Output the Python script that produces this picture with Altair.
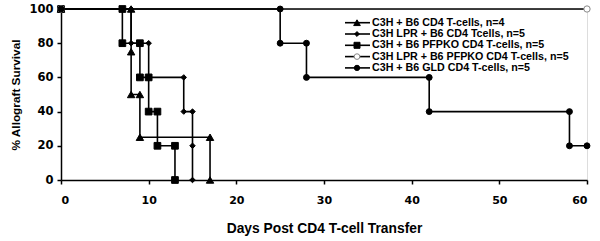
import altair as alt
import pandas as pd

# Survival curves (vertices of the step curves)
tri_days = [0, 8, 8, 8, 9, 9, 17, 17]
tri_surv = [100, 100, 75, 50, 50, 25, 25, 0]

dia_days = [0, 8, 8, 10, 10, 14, 14, 15, 15, 15]
dia_surv = [100, 100, 80, 80, 60, 60, 40, 40, 20, 0]

sq_days = [0, 7, 7, 9, 9, 10, 10, 11, 11, 13, 13]
sq_surv = [100, 100, 80, 80, 60, 60, 40, 40, 20, 20, 0]

open_days = [0, 60]
open_surv = [100, 100]

gld_days = [0, 25, 25, 28, 28, 42, 42, 58, 58, 60]
gld_surv = [100, 100, 80, 80, 60, 60, 40, 40, 20, 20]

labels = [
    "C3H + B6 CD4 T-cells, n=4",
    "C3H LPR + B6 CD4 Tcells, n=5",
    "C3H + B6 PFPKO CD4 T-cells, n=5",
    "C3H LPR + B6 PFPKO CD4 T-cells, n=5",
    "C3H + B6 GLD CD4 T-cells, n=5",
]
x_ticks = [0, 10, 20, 30, 40, 50, 60]
y_ticks = [0, 20, 40, 60, 80, 100]

shapes = ["triangle-up", "diamond", "square", "circle", "circle"]
fills = ["black", "black", "black", "white", "black"]
strokes = ["black", "black", "black", "#888888", "black"]
sizes = [55, 30, 45, 40, 35]

series = [
    (tri_days, tri_surv),
    (dia_days, dia_surv),
    (sq_days, sq_surv),
    (open_days, open_surv),
    (gld_days, gld_surv),
]

W, H = 526, 171
xs = alt.Scale(domain=[0, 60], nice=False)
ys = alt.Scale(domain=[0, 100], nice=False)

x_axis = alt.Axis(values=x_ticks, grid=False, labelOverlap=False,
                  domainColor="black", domainWidth=1.5,
                  tickColor="black", tickWidth=1.5, tickSize=4,
                  labelFont="DejaVu Sans", labelFontWeight="bold",
                  labelFontSize=11, labelColor="black", labelPadding=10,
                  titleFont="Liberation Sans", titleFontWeight="bold",
                  titleFontSize=13.8, titleColor="black", titlePadding=16)
y_axis = alt.Axis(values=y_ticks, grid=False, labelOverlap=False,
                  domainColor="black", domainWidth=1.5,
                  tickColor="black", tickWidth=1.5, tickSize=4,
                  labelFont="DejaVu Sans", labelFontWeight="bold",
                  labelFontSize=11.5, labelColor="black", labelPadding=4,
                  titleFont="Liberation Sans", titleFontWeight="bold",
                  titleFontSize=11.8, titleColor="black", titlePadding=7)

X = alt.X("day:Q", scale=xs, title="Days Post CD4 T-cell Transfer", axis=x_axis)
Y = alt.Y("surv:Q", scale=ys, title="% Allograft Survival", axis=y_axis)

layers = []
for i, (d, s) in enumerate(series):
    df = pd.DataFrame({"day": d, "surv": s, "order": range(len(d))})
    base = alt.Chart(df)
    line = base.mark_line(color="black", strokeWidth=1.6).encode(
        x=X, y=Y, order="order:Q",
    )
    pts = base.mark_point(
        shape=shapes[i], filled=True, fill=fills[i], stroke=strokes[i],
        strokeWidth=1, size=sizes[i], opacity=1,
    ).encode(x=X, y=Y)
    layers += [line, pts]

# Custom legend (pixel layout inside plot)
leg_x0, leg_x1, leg_xm, leg_xt = 284, 309, 296, 311
leg_y0, leg_dy = 13.7, 11.3
leg_layers = []
for i, lab in enumerate(labels):
    yy = leg_y0 + leg_dy * i
    ldf = pd.DataFrame({"x": [leg_x0], "x2": [leg_x1], "xm": [leg_xm], "xt": [leg_xt],
                        "y": [yy], "label": [lab]})
    lb = alt.Chart(ldf)
    leg_layers.append(lb.mark_rule(color="black", strokeWidth=1.6).encode(
        x=alt.X("x:Q", scale=None), x2="x2:Q", y=alt.Y("y:Q", scale=None)))
    leg_layers.append(lb.mark_point(shape=shapes[i], filled=True, fill=fills[i],
                                    stroke=strokes[i], strokeWidth=1,
                                    size=sizes[i] * 0.8, opacity=1).encode(
        x=alt.X("xm:Q", scale=None), y=alt.Y("y:Q", scale=None)))
    leg_layers.append(lb.mark_text(align="left", baseline="middle", font="Liberation Sans",
                                   fontWeight="bold", fontSize=10.7, color="black").encode(
        x=alt.X("xt:Q", scale=None), y=alt.Y("y:Q", scale=None), text="label:N"))

chart = alt.layer(*layers, *leg_layers).properties(
    width=W, height=H,
    autosize=alt.AutoSizeParams(type="none"),
    padding={"left": 61, "top": 9, "right": 13, "bottom": 61},
).configure_view(stroke=None).configure(background="white")

chart.save("out.html", embed_options={"renderer": "svg", "actions": False})
